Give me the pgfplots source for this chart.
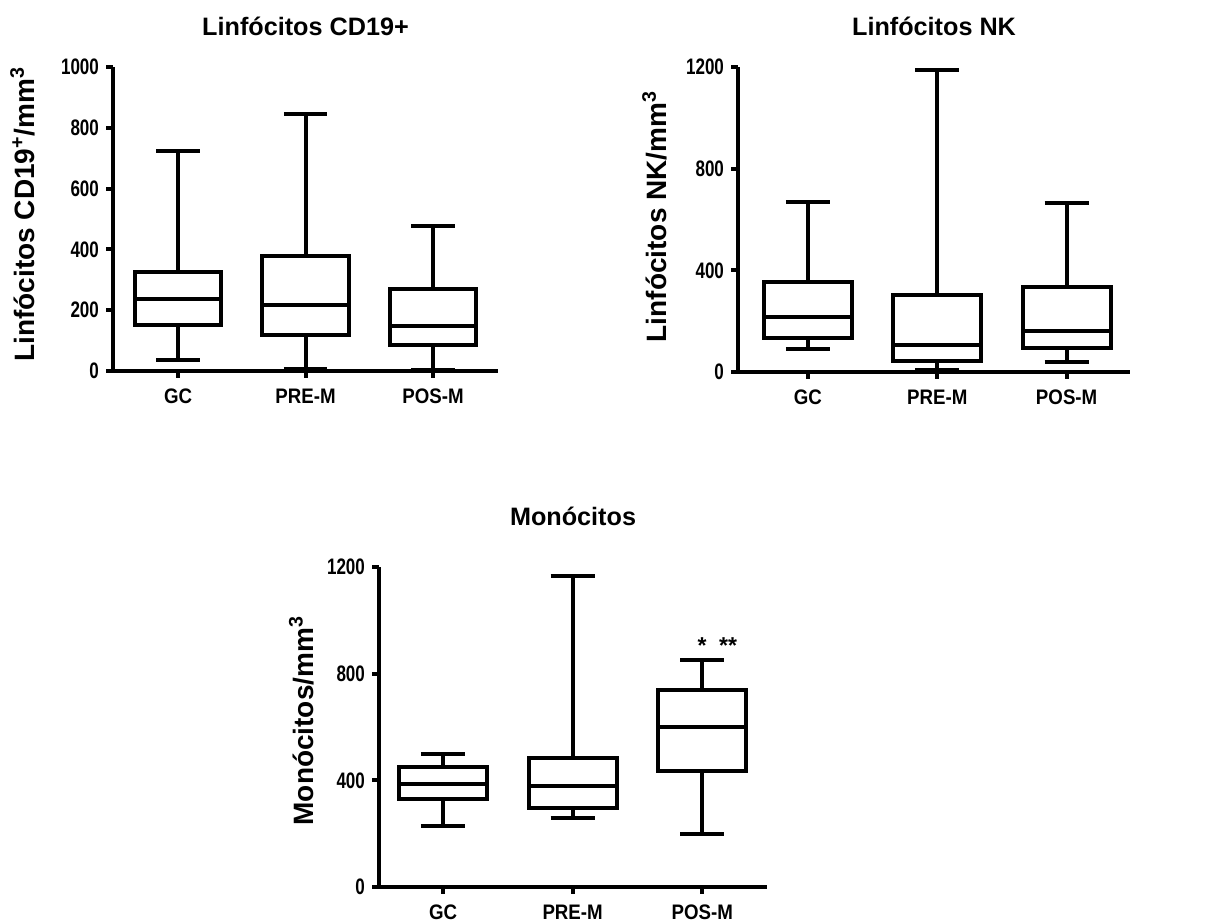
\documentclass[border=0pt]{standalone}
\usepackage{fontspec}
\setmainfont{Liberation Sans}
\newfontfamily\tickfont{Liberation Sans}[FakeStretch=0.89]
\newfontfamily\ytickfont{Liberation Sans}[FakeStretch=0.76]
\usepackage{pgfplots}
\pgfplotsset{compat=1.18}
\pgfplotsset{
  mybox/.style={
    scale only axis, anchor=south west, clip=false,
    axis lines=left, axis line style={-, line width=2pt, black},
    tick style={line width=2pt, black}, tick align=outside,
    major tick length=3.5pt,
    xtick={1,2,3}, xticklabels={GC,PRE-M,POS-M},
    ymin=0, unbounded coords=jump,
    /pgf/number format/assume math mode=true,
    /pgf/number format/1000 sep={},
    xticklabel style={font=\tickfont\bfseries\fontsize{10.5}{12}\selectfont, yshift=-2pt},
    yticklabel style={font=\ytickfont\bfseries\fontsize{11.2}{12}\selectfont},
    title style={font=\bfseries\fontsize{12.6}{14}\selectfont, at={(0.5,1)}, anchor=base},
    label style={font=\bfseries\fontsize{14}{16}\selectfont},
  },
  bx/.style={black, line width=2pt, solid, mark=none, line join=miter},
}
\begin{document}
\begin{tikzpicture}
\path[use as bounding box] (0pt,0pt) rectangle (612pt,462pt);
% Panel 1
\begin{axis}[mybox, at={(56.5pt,276.5pt)}, width=192.5pt, height=152pt,
  xmin=0.49, xmax=3.51, ymax=1000, ytick={0,200,400,600,800,1000},
  title={Linfócitos CD19+}, title style={yshift=9.5pt},
  ylabel={Linfócitos CD19\textsuperscript{+}/mm\textsuperscript{3}},
  ylabel style={at={(axis description cs:-0.235,0.516)}, anchor=center}]
% GC: 35,150,236,326,724
\addplot[bx] coordinates {(0.66,150) (1.34,150) (1.34,326) (0.66,326)} -- cycle;
\addplot[bx] coordinates {(0.66,236) (1.34,236) (nan,nan) (1,326) (1,724) (nan,nan) (0.83,724) (1.17,724) (nan,nan) (1,150) (1,35) (nan,nan) (0.83,35) (1.17,35)};
% PRE-M: 8,117,216,377,846
\addplot[bx] coordinates {(1.66,117) (2.34,117) (2.34,377) (1.66,377)} -- cycle;
\addplot[bx] coordinates {(1.66,216) (2.34,216) (nan,nan) (2,377) (2,846) (nan,nan) (1.83,846) (2.17,846) (nan,nan) (2,117) (2,8) (nan,nan) (1.83,8) (2.17,8)};
% POS-M: 4,84,148,269,477
\addplot[bx] coordinates {(2.66,84) (3.34,84) (3.34,269) (2.66,269)} -- cycle;
\addplot[bx] coordinates {(2.66,148) (3.34,148) (nan,nan) (3,269) (3,477) (nan,nan) (2.83,477) (3.17,477) (nan,nan) (3,84) (3,4) (nan,nan) (2.83,4) (3.17,4)};
\end{axis}
% Panel 2
\begin{axis}[mybox, at={(369pt,276pt)}, width=196pt, height=152.5pt,
  xmin=0.46, xmax=3.49, ymax=1200, ytick={0,400,800,1200},
  title={Linfócitos NK}, title style={yshift=9.5pt},
  ylabel={Linfócitos NK/mm\textsuperscript{3}},
  ylabel style={at={(axis description cs:-0.213,0.51)}, anchor=center}]
% GC: 92,134,215,356,670
\addplot[bx] coordinates {(0.66,134) (1.34,134) (1.34,356) (0.66,356)} -- cycle;
\addplot[bx] coordinates {(0.66,215) (1.34,215) (nan,nan) (1,356) (1,670) (nan,nan) (0.83,670) (1.17,670) (nan,nan) (1,134) (1,92) (nan,nan) (0.83,92) (1.17,92)};
% PRE-M: 9,42,107,301,1190
\addplot[bx] coordinates {(1.66,42) (2.34,42) (2.34,301) (1.66,301)} -- cycle;
\addplot[bx] coordinates {(1.66,107) (2.34,107) (nan,nan) (2,301) (2,1190) (nan,nan) (1.83,1190) (2.17,1190) (nan,nan) (2,42) (2,9) (nan,nan) (1.83,9) (2.17,9)};
% POS-M: 38,94,162,334,666
\addplot[bx] coordinates {(2.66,94) (3.34,94) (3.34,334) (2.66,334)} -- cycle;
\addplot[bx] coordinates {(2.66,162) (3.34,162) (nan,nan) (3,334) (3,666) (nan,nan) (2.83,666) (3.17,666) (nan,nan) (3,94) (3,38) (nan,nan) (2.83,38) (3.17,38)};
\end{axis}
% Panel 3
\begin{axis}[mybox, at={(189.5pt,18.5pt)}, width=194pt, height=160pt,
  xmin=0.506, xmax=3.5, ymax=1200, ytick={0,400,800,1200},
  title={Monócitos}, title style={yshift=14.5pt},
  ylabel={Monócitos/mm\textsuperscript{3}},
  ylabel style={at={(axis description cs:-0.2,0.52)}, anchor=center}]
% GC: 229,331,385,450,500
\addplot[bx] coordinates {(0.66,331) (1.34,331) (1.34,450) (0.66,450)} -- cycle;
\addplot[bx] coordinates {(0.66,385) (1.34,385) (nan,nan) (1,450) (1,500) (nan,nan) (0.83,500) (1.17,500) (nan,nan) (1,331) (1,229) (nan,nan) (0.83,229) (1.17,229)};
% PRE-M: 259,298,378,484,1165
\addplot[bx] coordinates {(1.66,298) (2.34,298) (2.34,484) (1.66,484)} -- cycle;
\addplot[bx] coordinates {(1.66,378) (2.34,378) (nan,nan) (2,484) (2,1165) (nan,nan) (1.83,1165) (2.17,1165) (nan,nan) (2,298) (2,259) (nan,nan) (1.83,259) (2.17,259)};
% POS-M: 200,435,600,738,850
\addplot[bx] coordinates {(2.66,435) (3.34,435) (3.34,738) (2.66,738)} -- cycle;
\addplot[bx] coordinates {(2.66,600) (3.34,600) (nan,nan) (3,738) (3,850) (nan,nan) (2.83,850) (3.17,850) (nan,nan) (3,435) (3,200) (nan,nan) (2.83,200) (3.17,200)};
\node[font=\bfseries\fontsize{11.5}{12}\selectfont] at (axis cs:3,905) {*};
\node[font=\bfseries\fontsize{11.5}{12}\selectfont] at (axis cs:3.2,905) {**};
\end{axis}
\end{tikzpicture}
\end{document}
